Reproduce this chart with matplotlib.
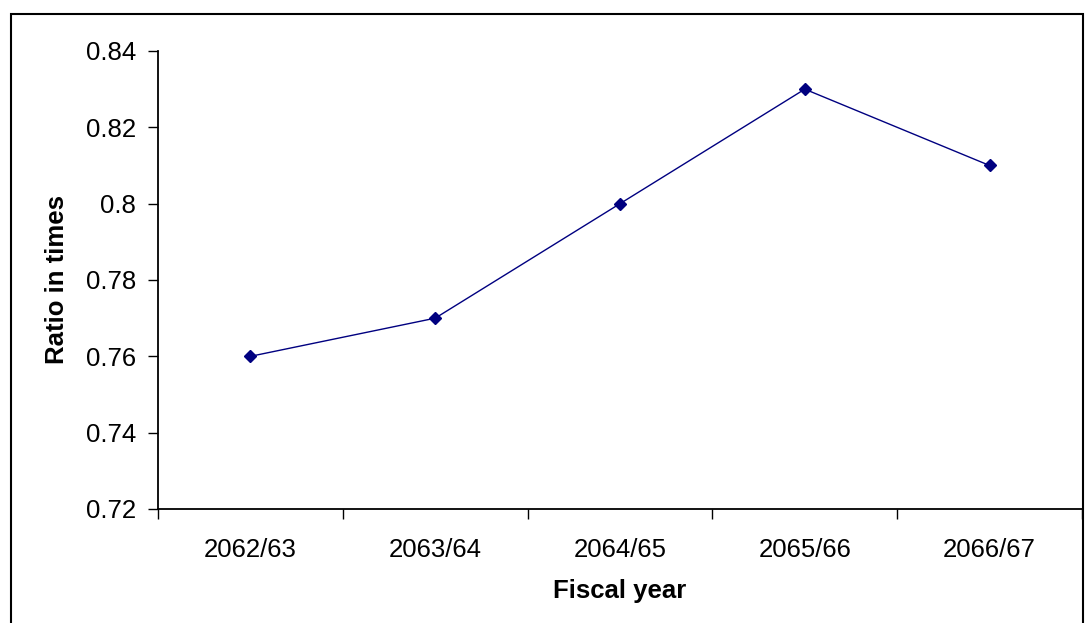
import numpy as np
import matplotlib
matplotlib.use('Agg')
import matplotlib.pyplot as plt
from matplotlib.patches import Rectangle

plt.rcParams['font.family'] = ['Liberation Sans', 'DejaVu Sans']

years = ['2062/63', '2063/64', '2064/65', '2065/66', '2066/67']
ratio = [0.76, 0.77, 0.80, 0.83, 0.81]
yticks = [0.72, 0.74, 0.76, 0.78, 0.80, 0.82, 0.84]
ylabels = ['0.72', '0.74', '0.76', '0.78', '0.8', '0.82', '0.84']

fig = plt.figure(figsize=(10.85, 6.23), dpi=100)
ax = fig.add_axes([158/1085, 1-509/623, 924/1085, 458/623])

x = np.arange(len(years))
ax.plot(x, ratio, color='#000080', lw=1.0, marker='D', markersize=6.5)

ax.set_xlim(-0.5, len(years) - 0.5)
ax.set_ylim(0.72, 0.84)
ax.set_yticks(yticks)
ax.set_yticklabels(ylabels)

# category boundaries get the tick marks, labels sit in the middle
ax.set_xticks(np.arange(len(years) + 1) - 0.5)
ax.set_xticklabels([])
ax.set_xticks(x, minor=True)
ax.set_xticklabels(years, minor=True)
ax.tick_params(axis='x', which='minor', length=0, pad=21, labelsize=18.5)
ax.tick_params(axis='x', which='major', length=7, width=1.0, direction='out')
ax.tick_params(axis='y', length=7, width=1.0, direction='out', pad=9, labelsize=18.5)

for s in ['top', 'right']:
    ax.spines[s].set_visible(False)
for s in ['left', 'bottom']:
    ax.spines[s].set_linewidth(1.3)

ax.set_xlabel('Fiscal year', fontsize=18.5, fontweight='bold', labelpad=12)
ax.set_ylabel('Ratio in times', fontsize=18.5, fontweight='bold', labelpad=12)

# outer chart frame
fig.patches.append(Rectangle((10.5/1085, -0.01), (1083-10.5)/1085, 1 - 13.5/623 + 0.01,
                             transform=fig.transFigure, fill=False, ec='black', lw=1.5))

fig.savefig('out.png', dpi=100)
